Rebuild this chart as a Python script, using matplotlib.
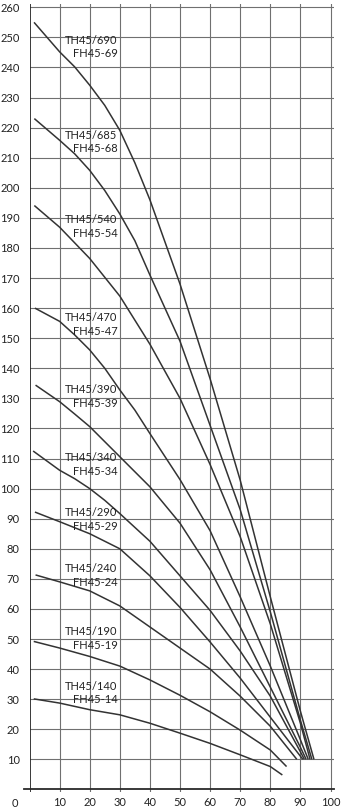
import matplotlib.pyplot as plt

plt.rcParams['font.family'] = ['Lato', 'DejaVu Sans']

# --- data (flow vs head) ---
labels = ["TH45/690\nFH45-69", "TH45/685\nFH45-68", "TH45/540\nFH45-54",
          "TH45/470\nFH45-47", "TH45/390\nFH45-39", "TH45/340\nFH45-34",
          "TH45/290\nFH45-29", "TH45/240\nFH45-24", "TH45/190\nFH45-19",
          "TH45/140\nFH45-14"]
label_y = [246.8, 215.2, 187.2, 154.6, 130.7, 107.9, 89.8, 71.0, 50.2, 32.1]

q_690 = [1.5, 10, 15, 20, 25, 30, 35, 40, 50, 60, 70, 80, 90, 94.5]
h_690 = [255, 245.2, 240.2, 234.1, 227.4, 219.1, 208.3, 196, 168, 136.5, 102.8, 64, 26, 10]
q_685 = [1.6, 10, 15, 20, 25, 30, 35, 40, 50, 60, 70, 80, 90, 93.8]
h_685 = [223, 215.8, 211.3, 205.8, 199.1, 191.3, 182.4, 171, 149, 121, 93, 59, 23, 10]
q_540 = [1.6, 10, 20, 30, 40, 50, 60, 70, 80, 90, 93.2]
h_540 = [194.1, 186.9, 176.5, 164, 148, 130, 108, 84, 55, 22, 10]
q_470 = [1.8, 10, 15, 20, 25, 30, 35, 40, 50, 60, 70, 80, 90, 92.6]
h_470 = [160, 155.6, 151.1, 146.1, 140, 132.8, 126.1, 118.3, 103, 86, 64, 41, 16.5, 10]
q_390 = [2, 10, 15, 20, 25, 30, 35, 40, 50, 60, 70, 80, 90, 91.9]
h_390 = [134.4, 128.9, 124.8, 120.6, 115.6, 110.6, 105.6, 100.6, 88.5, 73, 54, 34, 14, 10]
q_340 = [1.2, 10, 15, 20, 25, 30, 40, 50, 60, 70, 80, 90, 91.3]
h_340 = [112.5, 106.1, 103.3, 100, 96.1, 91.7, 82.5, 71, 59.5, 46, 31, 12.5, 10]
q_290 = [1.8, 10, 20, 30, 40, 50, 60, 70, 80, 90.8]
h_290 = [92.2, 89, 85, 80, 71, 60.5, 49, 37, 24, 10]
q_240 = [2, 10, 20, 30, 40, 50, 60, 70, 80, 88.8]
h_240 = [71.3, 69, 66, 61, 54, 47, 40, 31, 21, 10]
q_190 = [1.4, 10, 20, 30, 40, 50, 60, 70, 80, 85.4]
h_190 = [49.2, 47, 44.2, 41, 36.4, 31.3, 25.8, 19.7, 13.1, 7.6]
q_140 = [1.4, 10, 20, 30, 40, 50, 60, 70, 80, 84]
h_140 = [30.1, 28.7, 26.5, 24.8, 22, 18.7, 15.3, 11.5, 7.6, 4.8]

curves = [(q_690, h_690), (q_685, h_685), (q_540, h_540), (q_470, h_470),
          (q_390, h_390), (q_340, h_340), (q_290, h_290), (q_240, h_240),
          (q_190, h_190), (q_140, h_140)]

x_ticks = list(range(10, 101, 10))
y_ticks = list(range(10, 261, 10))

# --- figure ---
fig = plt.figure(figsize=(3.42, 8.1), dpi=100)
ax = fig.add_axes([0.0863, 0.0217, 0.8889, 0.9730])
ax.set_xlim(0, 101)
ax.set_ylim(-1, 261)

for s in ax.spines.values():
    s.set_visible(False)

ax.set_xticks(x_ticks)
ax.set_yticks(y_ticks)
ax.grid(True, color='#707070', linewidth=0.8)
ax.set_axisbelow(True)
ax.tick_params(length=0, labelsize=8, colors='#222222')
ax.tick_params(axis='y', pad=7)
ax.tick_params(axis='x', pad=3.5)

# axes lines
ax.axvline(0, color='#2a2a2a', linewidth=1.3)
ax.axhline(0, xmin=-0.018, xmax=1.0, color='#2a2a2a', linewidth=1.3, clip_on=False)

for (q, h) in curves:
    ax.plot(q, h, color='#333333', linewidth=1.1, solid_capstyle='butt')

for lab, ly in zip(labels, label_y):
    ax.text(29.2, ly, lab, ha='right', va='center', multialignment='right',
            fontsize=8, color='#222222', linespacing=1.3)

# corner zero
ax.text(-0.048, -0.0135, '0', transform=ax.transAxes, ha='center', va='center',
        fontsize=8, color='#222222')

fig.savefig('out.png', dpi=100)
